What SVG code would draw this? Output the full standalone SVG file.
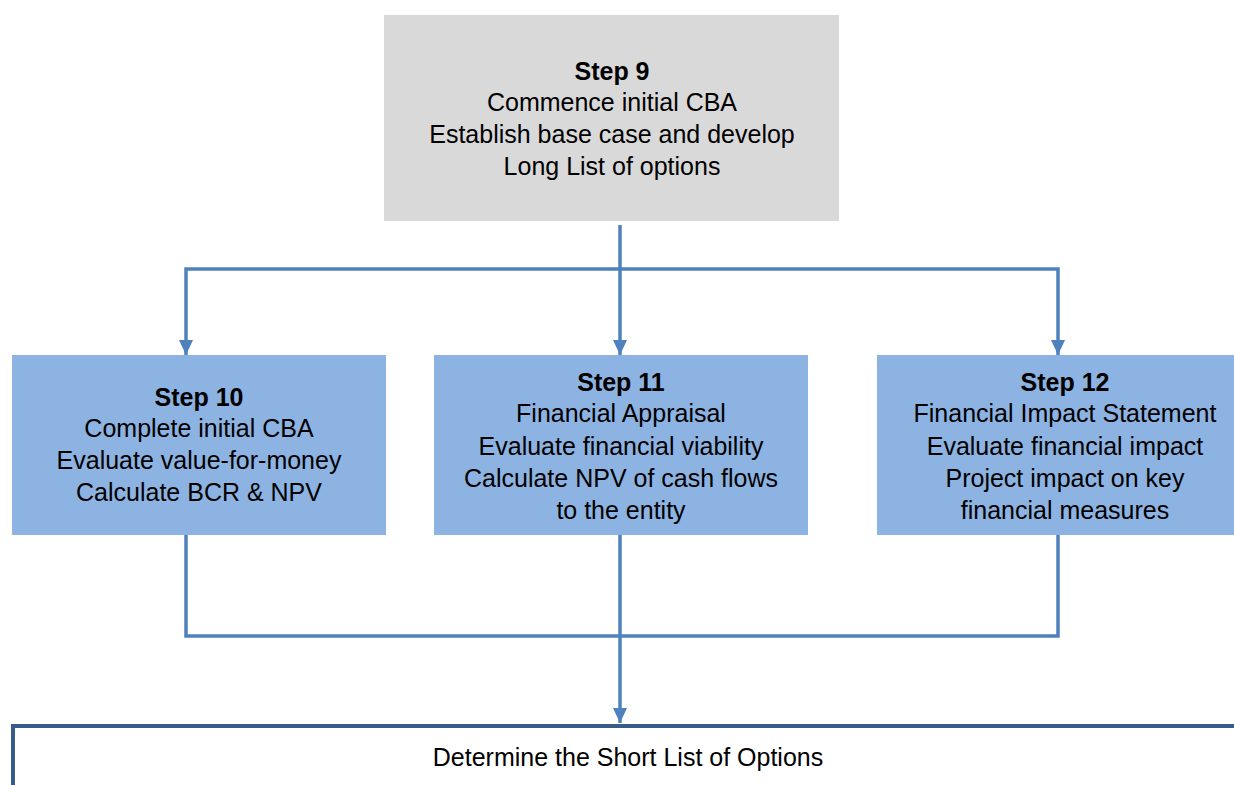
<svg xmlns="http://www.w3.org/2000/svg" width="1234" height="785" viewBox="0 0 1234 785">
  <style>
    .txt { font-family: "Liberation Sans", Arial, sans-serif; font-size: 25px; fill: #000; text-anchor: middle; }
    .b { font-weight: bold; }
    .gray { fill: #d9d9d9; }
    .blue { fill: #8db3e2; }
    .conn { fill: none; stroke: #4f81bd; stroke-width: 3.5; }
  </style>
  <defs>
    <!-- arrowhead drawn along +x so orient="auto" points it along the line -->
    <marker id="arrow" viewBox="0 0 15 14" refX="15" refY="7" markerWidth="15" markerHeight="14" markerUnits="userSpaceOnUse" orient="auto-start-reverse">
      <path d="M0,0 L15,7 L0,14 Z" fill="#4f81bd"/>
    </marker>
  </defs>
  <rect width="1234" height="785" fill="#fff"/>

  <g id="step9">
    <rect class="gray" x="384" y="15" width="455" height="206"/>
    <text class="txt b" x="612" y="80">Step 9</text>
    <text class="txt" x="612" y="111">Commence initial CBA</text>
    <text class="txt" x="612" y="143">Establish base case and develop</text>
    <text class="txt" x="612" y="175">Long List of options</text>
  </g>

  <g id="step10">
    <rect class="blue" x="12" y="355" width="374" height="180"/>
    <text class="txt b" x="199" y="406">Step 10</text>
    <text class="txt" x="199" y="437">Complete initial CBA</text>
    <text class="txt" x="199" y="469">Evaluate value-for-money</text>
    <text class="txt" x="199" y="501">Calculate BCR &amp; NPV</text>
  </g>

  <g id="step11">
    <rect class="blue" x="434" y="355" width="374" height="180"/>
    <text class="txt b" x="621" y="391">Step 11</text>
    <text class="txt" x="621" y="422">Financial Appraisal</text>
    <text class="txt" x="621" y="455">Evaluate financial viability</text>
    <text class="txt" x="621" y="487">Calculate NPV of cash flows</text>
    <text class="txt" x="621" y="519">to the entity</text>
  </g>

  <g id="step12">
    <rect class="blue" x="877" y="355" width="357" height="180"/>
    <text class="txt b" x="1065" y="391">Step 12</text>
    <text class="txt" x="1065" y="422">Financial Impact Statement</text>
    <text class="txt" x="1065" y="455">Evaluate financial impact</text>
    <text class="txt" x="1065" y="487">Project impact on key</text>
    <text class="txt" x="1065" y="519">financial measures</text>
  </g>

  <g id="shortlist">
    <path d="M13,785 V726 H1234" fill="none" stroke="#385d8a" stroke-width="4"/>
    <text class="txt" x="628" y="766">Determine the Short List of Options</text>
  </g>

  <g id="connectors">
    <!-- fan-out from Step 9 -->
    <path class="conn" d="M620,225 V355" marker-end="url(#arrow)"/>
    <path class="conn" d="M186,355 V269 H1058 V355" marker-start="url(#arrow)" marker-end="url(#arrow)"/>
    <!-- merge into the short list -->
    <path class="conn" d="M186,535 V636 H1058 V535"/>
    <path class="conn" d="M620,535 V723" marker-end="url(#arrow)"/>
  </g>
</svg>
